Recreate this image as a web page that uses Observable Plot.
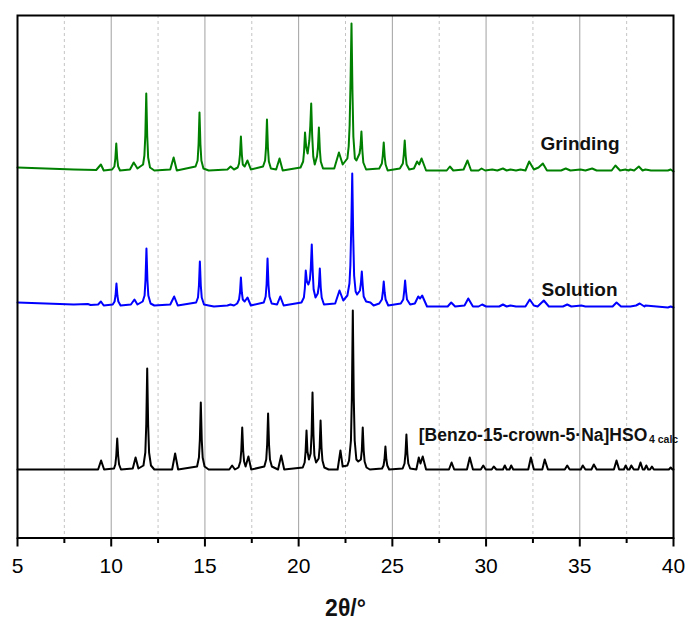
<!DOCTYPE html>
<html>
<head>
<meta charset="utf-8">
<script src="https://cdn.jsdelivr.net/npm/d3@7"></script>
<script src="https://cdn.jsdelivr.net/npm/@observablehq/plot@0.6"></script>
<style>
  html, body { margin: 0; padding: 0; background: #fff; }
</style>
</head>
<body>
<div id="chart"></div>
<script>
// Series names, colours and vertical stacking offsets (intensity, a.u.)
const seriesNames = ["[Benzo-15-crown-5·Na]HSO4 calc", "Solution", "Grinding"];
const seriesColors = ["#000000", "#0000ff", "#008000"];
const offsets = [68.5, 232.5, 367.5];

// Diffraction patterns: [2θ (°), intensity above baseline (a.u.)]
const calc = [
  [5.0,0],[9.3,0],[9.46,9],[9.62,0],
  [10.15,1],[10.22,5],[10.27,14],[10.32,31],[10.37,14],[10.42,5],[10.52,0],
  [11.15,1],[11.3,12],[11.45,1],
  [11.72,4],[11.82,17],[11.87,45],[11.92,101],[11.97,45],[12.02,17],[12.12,4],[12.3,0],
  [13.25,0],[13.41,16],[13.57,0],
  [14.58,3],[14.68,12],[14.73,30],[14.78,67],[14.83,30],[14.88,12],[14.98,3],[15.2,0],
  [16.3,0],[16.45,4],[16.6,0],
  [16.79,2],[16.89,8],[16.94,19],[16.99,42],[17.04,19],[17.09,8],[17.17,3],[17.32,13],[17.47,0],
  [18.17,3],[18.27,10],[18.32,25],[18.37,56],[18.42,25],[18.47,10],[18.57,3],[18.9,0],
  [19.07,14],[19.23,0],
  [20.22,2],[20.32,7],[20.37,18],[20.42,39],[20.47,18],[20.55,10],[20.64,16],[20.69,35],[20.74,77],[20.79,35],
  [20.84,14],[20.93,7],[21.07,11],[21.12,22],[21.17,49],[21.22,22],[21.27,9],[21.37,2],[21.6,0],
  [22.08,0],[22.23,19],[22.35,3],[22.6,4],[22.69,9],[22.79,29],[22.84,72],[22.89,159],[22.94,72],[22.99,29],
  [23.08,10],[23.18,8],[23.32,10],[23.37,19],[23.42,42],[23.47,19],[23.52,8],[23.62,2],[23.8,0],
  [24.45,1],[24.53,4],[24.58,10],[24.63,23],[24.68,10],[24.73,4],[24.83,0],
  [25.55,1],[25.65,6],[25.7,16],[25.75,35],[25.8,16],[25.85,6],[25.95,1],
  [26.28,0],[26.41,12],[26.5,6],[26.62,13],[26.8,0],
  [28.02,0],[28.16,7],[28.3,0],[28.98,0],[29.13,12],[29.3,0],[29.72,0],[29.85,4],[29.98,0],
  [30.3,0],[30.41,3],[30.55,0],[30.9,0],[31.0,4],[31.1,0],[31.25,0],[31.34,4],[31.45,0],[32.25,0],
  [32.39,12],[32.55,0],[33.0,0],[33.13,10],[33.3,0],[34.2,0],[34.33,4],[34.46,0],[35.05,0],[35.16,4],
  [35.3,0],[35.62,0],[35.75,5],[35.9,0],[36.82,0],[36.96,9],[37.1,0],[37.35,0],[37.45,4],[37.55,0],
  [37.65,0],[37.75,4],[37.88,0],[38.12,0],[38.24,7],[38.36,0],[38.45,0],[38.55,4],[38.65,0],[38.75,0],
  [38.85,3],[38.95,0],[39.75,0],[39.85,2],[39.95,0],[40.0,0]
];

const solution = [
  [5.0,3],[6.5,2],[8.0,1],[8.75,1.5],[8.9,0.5],[9.3,1],[9.45,4],[9.6,0],
  [10.08,1],[10.18,4],[10.23,10],[10.28,22],[10.33,10],[10.38,4],[10.5,0],
  [11.05,1],[11.24,6],[11.4,1],
  [11.68,4],[11.78,10],[11.83,26],[11.88,57],[11.93,26],[11.98,10],[12.1,2],[12.3,0],
  [13.15,1],[13.36,9],[13.55,0],
  [14.53,3],[14.63,8],[14.68,20],[14.73,44],[14.78,20],[14.83,8],[14.95,1],[15.2,0],[15.48,-1],
  [16.2,0],[16.36,1],[16.55,0],
  [16.72,2],[16.82,6],[16.87,13],[16.92,28],[16.97,13],[17.02,6],[17.12,4],[17.27,8],[17.45,0],
  [18.14,3],[18.24,9],[18.29,21],[18.34,47],[18.39,21],[18.44,9],[18.56,2],[18.85,1],
  [19.02,9],[19.2,0],
  [20.15,3],[20.28,8],[20.33,17],[20.38,35],[20.44,24],[20.52,21],[20.6,26],[20.65,38],[20.7,61],[20.75,34],
  [20.8,16],[20.9,8],[21.02,12],[21.08,20],[21.13,37],[21.18,18],[21.23,8],[21.35,1],
  [21.95,2],[22.18,15],[22.38,5],[22.6,10],[22.71,22],[22.76,40],[22.81,80],[22.86,132],[22.91,70],[22.96,30],
  [23.04,14],[23.12,11],[23.27,15],[23.32,22],[23.37,34],[23.42,20],[23.47,9],[23.6,4],[23.83,3],[24.0,0],
  [24.3,2],[24.44,6],[24.49,13],[24.54,24],[24.59,13],[24.64,6],[24.78,0],
  [25.45,2],[25.58,6],[25.63,14],[25.68,25],[25.73,14],[25.78,6],[25.95,1],
  [26.2,2],[26.38,9],[26.48,7],[26.59,10],[26.85,-1],[27.95,-1],[28.14,3],
  [28.35,-1],[28.85,0],[29.05,7],[29.3,-1],[29.6,-1],[29.79,1],[30.0,-1],[30.33,-1],[30.7,-1],[30.9,1],
  [31.1,-1],[31.3,0],[31.6,-1],[32.1,-1],[32.33,6],[32.55,0],[32.75,-1],[33.08,5],[33.35,-1],[34.1,-1],
  [34.33,1],[34.55,-1],[35.08,0],[35.3,-1],[35.66,-1],[36.75,-1],[36.96,3],[37.2,-1],[37.44,-1],[37.7,-1],
  [38.0,0],[38.2,2],[38.45,-1],[38.5,0],[39.7,-2],[39.85,-1],[40.0,-2]
];

const grinding = [
  [5.0,3],[6.5,2],[8.0,1],[9.2,0.5],[9.45,6],[9.6,0],
  [10.05,1],[10.17,4],[10.22,12],[10.27,27],[10.32,12],[10.37,4],[10.47,0],
  [11.0,1],[11.2,8],[11.4,2],
  [11.7,6],[11.77,15],[11.82,35],[11.87,77],[11.92,35],[11.97,13],[12.07,3],[12.3,0],
  [13.15,1],[13.33,13],[13.5,0],
  [14.5,4],[14.61,10],[14.66,26],[14.71,58],[14.76,26],[14.81,10],[14.92,2],[15.2,0],
  [16.2,1],[16.37,4],[16.55,1],
  [16.75,3],[16.82,7],[16.87,16],[16.92,34],[16.97,16],[17.02,6],[17.12,4],[17.27,10],[17.45,1],
  [18.1,4],[18.21,10],[18.26,23],[18.31,51],[18.36,23],[18.41,9],[18.52,2],[18.8,1],
  [18.98,12],[19.15,0],
  [20.1,3],[20.24,9],[20.29,19],[20.34,38],[20.4,24],[20.48,17],[20.57,30],[20.62,44],[20.67,67],[20.72,36],
  [20.78,14],[20.86,6],[20.98,14],[21.03,23],[21.08,43],[21.13,21],[21.18,9],[21.3,2],
  [21.9,2],[22.15,18],[22.35,6],[22.6,12],[22.67,24],[22.72,45],[22.77,90],[22.82,147],[22.87,80],[22.92,34],
  [23.0,12],[23.08,10],[23.25,17],[23.3,24],[23.35,39],[23.4,20],[23.45,8],[23.6,1],
  [24.3,2],[24.44,7],[24.49,15],[24.54,28],[24.59,14],[24.64,6],[24.75,0],
  [25.4,2],[25.56,7],[25.61,16],[25.66,30],[25.71,15],[25.76,6],[25.9,1],
  [26.15,2],[26.32,9],[26.43,6],[26.56,12],[26.8,0],[27.9,0],[28.07,4],[28.25,0],[28.8,1],[29.01,10],
  [29.2,0],[29.6,0],[29.76,2],[29.95,0],[30.33,1],[30.6,0],[30.9,2],[31.1,0],[31.3,1],[31.6,0],
  [31.84,1],[32.1,0],[32.3,9],[32.55,1],[32.8,3],[33.03,7],[33.25,0],[34.0,0],[34.25,2],[34.5,0],
  [35.04,1],[35.3,0],[35.66,2],[35.9,0],[36.7,0],[36.9,5],[37.15,0],[37.44,1],[37.6,0],[37.7,1],
  [37.9,0],[38.15,4],[38.35,0],[38.5,1],[38.8,0],[39.7,0],[39.85,1],[40.0,-1]
];

// Axis ticks
const majorTicks = [5, 10, 15, 20, 25, 30, 35, 40];
const minorTicks = [7.5, 12.5, 17.5, 22.5, 27.5, 32.5, 37.5];
const gridMajor = [10, 15, 20, 25, 30, 35];
const xLabel = "2θ/°";

// Pattern labels: text, 2θ anchor, intensity anchor (a.u.)
const labelText = ["Grinding", "Solution", "[Benzo-15-crown-5·Na]HSO"];
const labelX = [32.9, 32.96, 38.6];
const labelY = [388.5, 241.8, 97.5];
const labelAnchor = ["start", "start", "end"];
const subText = ["4 calc"];
const subX = [38.69];
const subY = [95];

const patterns = [calc, solution, grinding];
const table = [];
patterns.forEach((p, i) => {
  p.forEach(([x, v]) => table.push({x, y: v + offsets[i], series: seriesNames[i]}));
});

const labels = labelText.map((t, i) => ({t, x: labelX[i], y: labelY[i], a: labelAnchor[i]}));
const subs = subText.map((t, i) => ({t, x: subX[i], y: subY[i]}));

const chart = Plot.plot({
  width: 688,
  height: 621,
  marginLeft: 17,
  marginRight: 15,
  marginTop: 15,
  marginBottom: 83.5,
  style: {fontFamily: "'Liberation Sans', Arial, sans-serif", background: "#fff", color: "#000"},
  x: {domain: [5, 40]},
  y: {domain: [0, 522.5], axis: null},
  color: {domain: seriesNames, range: seriesColors},
  marks: [
    Plot.ruleX(minorTicks, {stroke: "#c4c4c4", strokeWidth: 1, strokeDasharray: "3,3"}),
    Plot.ruleX(gridMajor, {stroke: "#a0a0a0", strokeWidth: 1}),
    Plot.line(table, {x: "x", y: "y", z: "series", stroke: "series", strokeWidth: 2, strokeLinejoin: "round"}),
    Plot.text(labels.filter(d => d.a === "start"), {x: "x", y: "y", text: "t", textAnchor: "start", lineAnchor: "bottom", fontSize: 19, fontWeight: "bold", fill: "#111"}),
    Plot.text(labels.filter(d => d.a === "end"), {x: "x", y: "y", text: "t", textAnchor: "end", lineAnchor: "bottom", fontSize: 17.5, fontWeight: "bold", fill: "#111"}),
    Plot.text(subs, {x: "x", y: "y", text: "t", textAnchor: "start", lineAnchor: "bottom", fontSize: 10.5, fontWeight: "bold", fill: "#111"}),
    Plot.axisX({ticks: minorTicks, tickSize: 5.5, strokeWidth: 2, tickFormat: () => "", label: null}),
    Plot.axisX({ticks: majorTicks, tickSize: 9, tickPadding: 11.5, strokeWidth: 2, fontSize: 21, tickFormat: d => String(d), label: null}),
    Plot.text([xLabel], {frameAnchor: "bottom", dy: 77.5, lineAnchor: "bottom", fontSize: 23, fontWeight: "bold", fill: "#111"}),
    Plot.frame({stroke: "#000", strokeWidth: 2})
  ]
});
document.getElementById("chart").appendChild(chart);
</script>
</body>
</html>
